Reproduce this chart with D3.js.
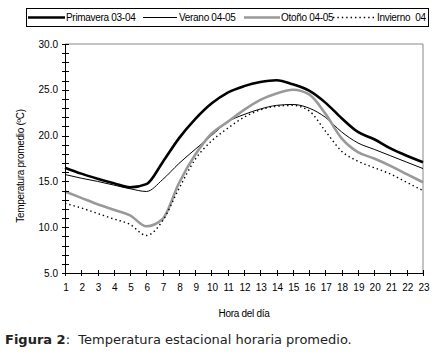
<!DOCTYPE html>
<html>
<head>
<meta charset="utf-8">
<script src="https://cdn.jsdelivr.net/npm/d3@7"></script>
<style>
  body { margin: 0; background: #fff; }
  svg { display: block; }
  text { font-family: "Liberation Sans", Arial, sans-serif; }
  text.caption { font-family: "DejaVu Sans", Verdana, sans-serif; }
</style>
</head>
<body>
<svg id="chart" width="438" height="354"></svg>
<script>
const hours = d3.range(1, 24);
const yTicks = [5, 10, 15, 20, 25, 30];

const primavera = [16.5, 15.85, 15.3, 14.8, 14.35, 14.7, 17.1, 19.7, 21.8, 23.5, 24.7, 25.4, 25.85, 26.05, 25.6, 24.9, 23.6, 21.9, 20.4, 19.6, 18.6, 17.8, 17.1];
const verano = [15.75, 15.35, 15.0, 14.6, 14.2, 13.9, 15.2, 16.95, 18.5, 20.0, 21.5, 22.3, 22.9, 23.3, 23.4, 23.0, 22.0, 20.4, 19.2, 18.5, 17.8, 17.1, 16.4];
const otono = [13.9, 13.2, 12.5, 11.9, 11.3, 10.1, 10.9, 14.8, 17.9, 20.2, 21.5, 22.8, 23.9, 24.6, 25.0, 24.5, 22.4, 19.7, 18.2, 17.5, 16.7, 15.8, 14.9];
const invierno = [12.6, 12.1, 11.5, 10.9, 10.3, 9.1, 10.7, 14.2, 17.4, 19.4, 20.8, 22.0, 22.8, 23.2, 23.3, 22.7, 20.5, 18.3, 17.2, 16.5, 15.8, 14.9, 14.0];

const seriesNames = ["Primavera 03-04", "Verano 04-05", "Otoño 04-05", "Invierno  04"];
const seriesData = [primavera, verano, otono, invierno];
const seriesStyle = [
    { color: "#000", width: 2.6, dash: null },
    { color: "#000", width: 1, dash: null },
    { color: "#999", width: 2.6, dash: null },
    { color: "#000", width: 1.4, dash: "1.4,3" }
];

const svg = d3.select("#chart");

const area = { left: 65, right: 423, top: 44, bottom: 273 };

const scaleX = d3.scaleLinear().domain([1, 23]).range([area.left, area.right]);
const scaleY = d3.scaleLinear().domain([5, 30]).range([area.bottom, area.top]);

// gray frame top and right
svg.append("line")
    .attr("x1", area.left).attr("x2", area.right)
    .attr("y1", area.top).attr("y2", area.top)
    .attr("stroke", "#888").attr("stroke-width", 1);
svg.append("line")
    .attr("x1", area.right).attr("x2", area.right)
    .attr("y1", area.top).attr("y2", area.bottom)
    .attr("stroke", "#888").attr("stroke-width", 1);

// series lines
const line = d3.line()
    .x((d, i) => scaleX(hours[i]))
    .y(d => scaleY(d))
    .curve(d3.curveMonotoneX);

seriesData.forEach((values, k) => {
    const st = seriesStyle[k];
    svg.append("path")
        .datum(values)
        .attr("d", line)
        .attr("fill", "none")
        .attr("stroke", st.color)
        .attr("stroke-width", st.width)
        .attr("stroke-dasharray", st.dash)
        .attr("stroke-linejoin", "round");
});

// y axis
const axisY = svg.append("g");
axisY.append("line")
    .attr("x1", area.left + 0.5).attr("x2", area.left + 0.5)
    .attr("y1", area.top).attr("y2", area.bottom)
    .attr("stroke", "#000");
axisY.selectAll(".minor")
    .data(d3.range(5, 31, 1))
    .enter()
    .append("line")
    .attr("x1", area.left - 3).attr("x2", area.left + 4)
    .attr("y1", d => Math.round(scaleY(d)) + 0.5)
    .attr("y2", d => Math.round(scaleY(d)) + 0.5)
    .attr("stroke", "#000");
axisY.selectAll("text")
    .data(yTicks)
    .enter()
    .append("text")
    .attr("x", 58)
    .attr("y", d => scaleY(d) + 3.5)
    .attr("text-anchor", "end")
    .attr("font-size", 10)
    .text(d3.format(".1f"));

// x axis
const axisX = svg.append("g");
axisX.append("line")
    .attr("x1", area.left).attr("x2", area.right)
    .attr("y1", area.bottom + 0.5).attr("y2", area.bottom + 0.5)
    .attr("stroke", "#000");
axisX.selectAll(".tick")
    .data(hours)
    .enter()
    .append("line")
    .attr("x1", d => Math.round(scaleX(d)) + 0.5)
    .attr("x2", d => Math.round(scaleX(d)) + 0.5)
    .attr("y1", area.bottom - 3).attr("y2", area.bottom + 3)
    .attr("stroke", "#000");
axisX.selectAll("text")
    .data(hours)
    .enter()
    .append("text")
    .attr("x", d => scaleX(d) + 1)
    .attr("y", 291)
    .attr("text-anchor", "middle")
    .attr("font-size", 10)
    .text(d => d);

// axis titles
svg.append("text")
    .attr("x", 244).attr("y", 317)
    .attr("text-anchor", "middle")
    .attr("font-size", 10)
    .attr("letter-spacing", -0.3)
    .text("Hora del día");

svg.append("text")
    .attr("transform", "translate(24,166) rotate(-90)")
    .attr("text-anchor", "middle")
    .attr("font-size", 10)
    .attr("letter-spacing", -0.3)
    .text("Temperatura promedio (ºC)");

// legend
const legend = svg.append("g");
legend.append("rect")
    .attr("x", 26.5).attr("y", 8.5)
    .attr("width", 402).attr("height", 18)
    .attr("fill", "#fff").attr("stroke", "#000");

const legendPos = [
    { x0: 28, x1: 65, tx: 66 },
    { x0: 143, x1: 177, tx: 179 },
    { x0: 244, x1: 280, tx: 281 },
    { x0: 333, x1: 375, tx: 377 }
];
seriesNames.forEach((name, k) => {
    const st = seriesStyle[k];
    const p = legendPos[k];
    legend.append("line")
        .attr("x1", p.x0).attr("x2", p.x1)
        .attr("y1", 17.5).attr("y2", 17.5)
        .attr("stroke", st.color)
        .attr("stroke-width", st.width)
        .attr("stroke-dasharray", st.dash);
    legend.append("text")
        .attr("x", p.tx).attr("y", 21)
        .attr("font-size", 10)
        .attr("letter-spacing", -0.3)
        .style("white-space", "pre")
        .text(name);
});

// caption
const caption = svg.append("text")
    .attr("class", "caption")
    .attr("x", 5).attr("y", 344)
    .attr("font-size", 13)
    .attr("fill", "#222")
    .style("white-space", "pre");
caption.append("tspan").attr("font-weight", "bold").text("Figura 2");
caption.append("tspan").text(":  Temperatura estacional horaria promedio.");
</script>
</body>
</html>
